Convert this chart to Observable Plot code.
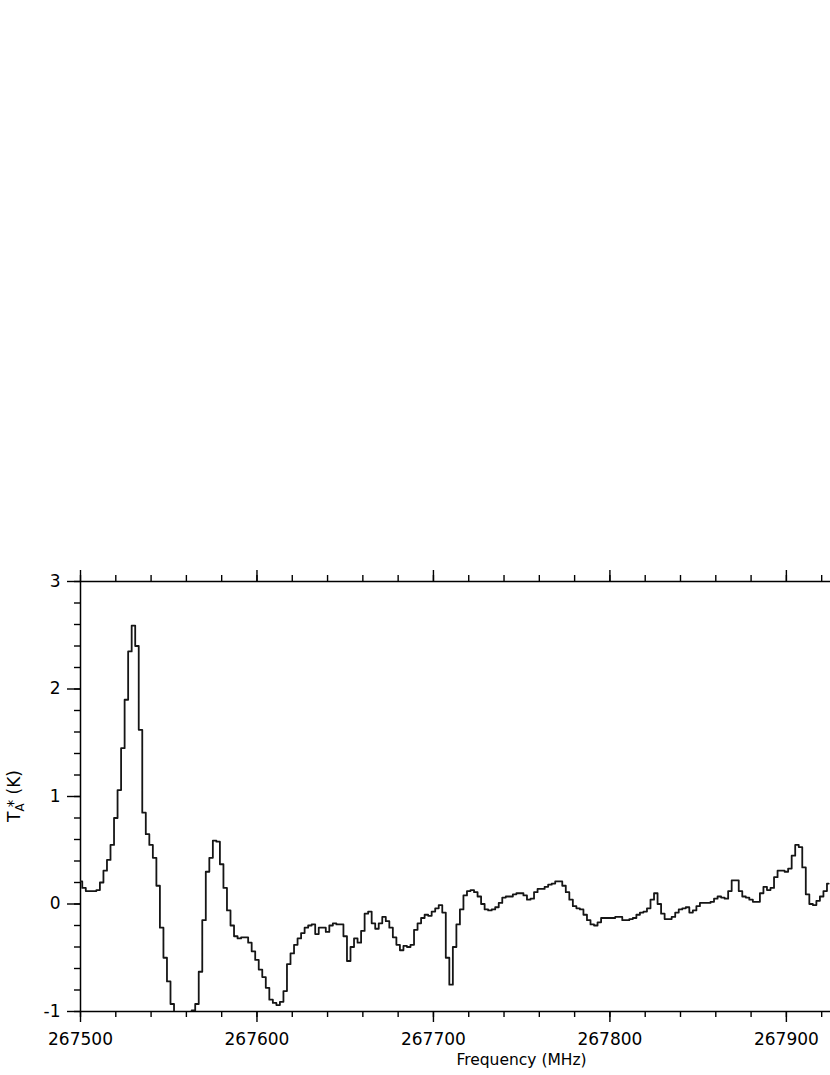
<!DOCTYPE html>
<html><head><meta charset="utf-8">
<script src="https://cdn.jsdelivr.net/npm/d3@7"></script>
<script src="https://cdn.jsdelivr.net/npm/@observablehq/plot@0.6"></script>
<style>body{margin:0;background:#fff}</style>
</head><body><div id="chart"></div>
<script>
// Channel grid (MHz): 267500 .. 267924, 2 MHz channels
const freqStart = 267500;
const freqStep = 2;
// Antenna temperature T_A* (K)
const intensity = [
 0.21, 0.15, 0.12, 0.12, 0.12, 0.13, 0.20, 0.31, 0.41, 0.55,
 0.80, 1.06, 1.45, 1.90, 2.35, 2.59, 2.40, 1.62, 0.85, 0.65,
 0.55, 0.43, 0.17, -0.22, -0.50, -0.72, -0.93, -1.02, -1.08, -1.10,
 -1.10, -1.06, -0.99, -0.93, -0.63, -0.15, 0.30, 0.43, 0.59, 0.58,
 0.37, 0.15, -0.06, -0.20, -0.30, -0.32, -0.31, -0.31, -0.36, -0.44,
 -0.52, -0.61, -0.68, -0.78, -0.89, -0.92, -0.94, -0.91, -0.81, -0.56,
 -0.46, -0.38, -0.32, -0.27, -0.22, -0.20, -0.19, -0.28, -0.22, -0.22,
 -0.26, -0.20, -0.18, -0.19, -0.19, -0.30, -0.53, -0.40, -0.32, -0.36,
 -0.25, -0.09, -0.07, -0.18, -0.23, -0.18, -0.12, -0.16, -0.22, -0.31,
 -0.38, -0.43, -0.39, -0.40, -0.38, -0.24, -0.18, -0.13, -0.10, -0.11,
 -0.07, -0.04, -0.01, -0.08, -0.50, -0.75, -0.40, -0.19, -0.05, 0.08,
 0.12, 0.13, 0.11, 0.07, 0.00, -0.05, -0.06, -0.05, -0.03, 0.01,
 0.06, 0.07, 0.07, 0.09, 0.10, 0.10, 0.08, 0.04, 0.05, 0.11,
 0.14, 0.14, 0.16, 0.18, 0.19, 0.21, 0.21, 0.17, 0.11, 0.04,
 -0.02, -0.04, -0.05, -0.10, -0.15, -0.19, -0.20, -0.17, -0.13, -0.13,
 -0.13, -0.13, -0.12, -0.12, -0.15, -0.15, -0.14, -0.13, -0.10, -0.08,
 -0.07, -0.04, 0.04, 0.10, 0.00, -0.09, -0.14, -0.14, -0.12, -0.08,
 -0.05, -0.04, -0.03, -0.08, -0.06, -0.02, 0.01, 0.01, 0.01, 0.02,
 0.05, 0.07, 0.06, 0.05, 0.12, 0.22, 0.22, 0.12, 0.07, 0.06,
 0.04, 0.02, 0.02, 0.10, 0.16, 0.13, 0.15, 0.25, 0.31, 0.31,
 0.30, 0.33, 0.45, 0.55, 0.53, 0.34, 0.09, 0.00, -0.01, 0.03,
 0.07, 0.12, 0.19
];
const xMajorTicks = [267500, 267600, 267700, 267800, 267900];
const xMinorTicks = [267500, 267520, 267540, 267560, 267580, 267600, 267620, 267640, 267660, 267680, 267700, 267720, 267740, 267760, 267780, 267800, 267820, 267840, 267860, 267880, 267900, 267920];
const yMajorTicks = [-1, 0, 1, 2, 3];
const yMinorTicks = [-1, -0.8, -0.6, -0.4, -0.2, 0, 0.2, 0.4, 0.6, 0.8, 1, 1.2, 1.4, 1.6, 1.8, 2, 2.2, 2.4, 2.6, 2.8, 3];
const xLabel = "Frequency (MHz)";

const data = intensity.map((v, i) => ({f: freqStart + i * freqStep, t: v}));

const fmt = d => String(d);
const plot = Plot.plot({
  width: 830, height: 1075,
  marginTop: 581, marginBottom: 64, marginLeft: 80, marginRight: 0,
  x: {domain: [267500, 267925]},
  y: {domain: [-1, 3]},
  style: {fontFamily: "DejaVu Sans", fontSize: "17px", color: "#000", background: "#fff"},
  marks: [
    Plot.axisX(xMinorTicks, {anchor: "bottom", tickSize: 6, text: null, label: null, strokeWidth: 1.4}),
    Plot.axisX(xMajorTicks, {anchor: "bottom", tickSize: 11, tickPadding: 10, tickFormat: fmt, label: null, strokeWidth: 1.4}),
    Plot.axisX(xMinorTicks, {anchor: "top", tickSize: 7, text: null, label: null, strokeWidth: 1.4}),
    Plot.axisX(xMajorTicks, {anchor: "top", tickSize: 12, text: null, label: null, strokeWidth: 1.4}),
    Plot.axisY(yMinorTicks, {anchor: "left", tickSize: 6, text: null, label: null, strokeWidth: 1.4}),
    Plot.axisY(yMajorTicks, {anchor: "left", tickSize: 13, tickPadding: 7, tickFormat: fmt, label: null, strokeWidth: 1.4}),
    Plot.ruleY([-1], {strokeWidth: 1.5}),
    Plot.ruleY([3], {strokeWidth: 1.5}),
    Plot.ruleX([267500], {strokeWidth: 1.5}),
    Plot.line(data, {x: "f", y: "t", curve: "step", stroke: "#151515", strokeWidth: 1.8, clip: true}),
    Plot.text([xLabel], {text: d => d, frameAnchor: "bottom", dx: 66, dy: 53, fontSize: 15.5, fill: "#000"})
  ]
});

const svg = d3.select(plot);
const yl = svg.append("text")
  .attr("transform", "translate(20,796) rotate(-90)")
  .attr("text-anchor", "middle")
  .style("font-family", "DejaVu Sans")
  .style("font-size", "17px")
  .attr("fill", "#000");
yl.append("tspan").text("T");
yl.append("tspan").attr("font-size", "12px").attr("dy", 4).text("A");
yl.append("tspan").attr("font-size", "15px").attr("dx", -4).attr("dy", -5).text("*");
yl.append("tspan").attr("dy", 1).text(" (K)");

document.getElementById("chart").appendChild(plot);
</script>
</body></html>
